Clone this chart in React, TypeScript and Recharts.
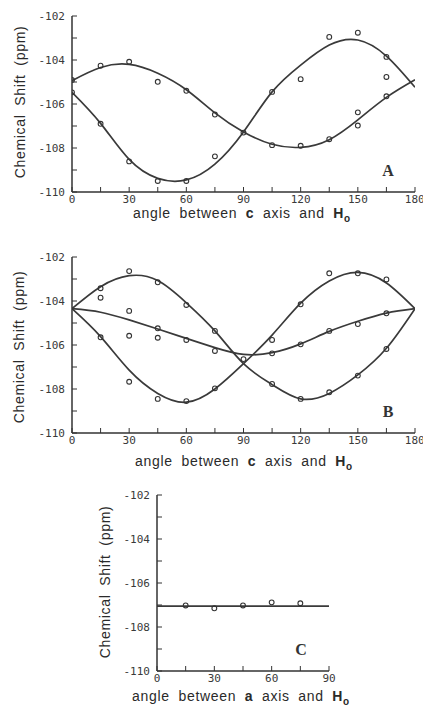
import { ComposedChart, Line, Scatter, XAxis, YAxis } from 'recharts'

const ANGLES = [0, 15, 30, 45, 60, 75, 90, 105, 120, 135, 150, 165, 180]
const ANGLES_C = [0, 15, 30, 45, 60, 75, 90]

// panel A: fitted curves
const CURVE_A1 = [-104.94, -104.34, -104.2, -104.6, -105.35, -106.4, -107.27, -107.83, -107.97, -107.62, -106.72, -105.7, -104.9]
const CURVE_A2 = [-105.47, -106.88, -108.52, -109.38, -109.45, -108.73, -107.27, -105.45, -104.23, -103.32, -103.09, -103.82, -105.24]

// panel A: measured points [angle, shift]
const POINTS_A = [
  [0, -104.91], [0, -105.47], [15, -104.26], [15, -106.9], [30, -104.08], [30, -108.61],
  [45, -104.99], [45, -109.5], [60, -105.4], [60, -109.5], [75, -106.48], [75, -108.38],
  [90, -107.3], [105, -107.87], [105, -105.45], [120, -107.9], [120, -104.87],
  [135, -107.6], [135, -102.95], [150, -106.38], [150, -106.98], [150, -102.76],
  [165, -105.65], [165, -103.86], [165, -104.77],
]

// panel B
const CURVE_B1 = [-104.35, -103.35, -102.85, -103.07, -104.08, -105.36, -106.85, -107.8, -108.45, -108.2, -107.36, -106.15, -104.35]
const CURVE_B2 = [-104.35, -105.62, -107.14, -108.2, -108.6, -108.0, -106.85, -105.55, -104.1, -103.09, -102.7, -103.18, -104.35]
const CURVE_B3 = [-104.35, -104.51, -104.86, -105.27, -105.7, -106.12, -106.43, -106.35, -105.95, -105.38, -104.92, -104.55, -104.35]

const POINTS_B = [
  [15, -103.42], [15, -103.85], [15, -105.65],
  [30, -102.64], [30, -104.45], [30, -105.58], [30, -107.67],
  [45, -103.15], [45, -105.24], [45, -105.67], [45, -108.45],
  [60, -104.18], [60, -105.77], [60, -108.55],
  [75, -105.36], [75, -106.27], [75, -107.97],
  [90, -106.64],
  [105, -105.77], [105, -106.38], [105, -107.77],
  [120, -104.15], [120, -105.97], [120, -108.45],
  [135, -102.74], [135, -105.36], [135, -108.15],
  [150, -102.74], [150, -105.05], [150, -107.39],
  [165, -103.02], [165, -104.56], [165, -106.18],
]

// panel C
const CURVE_C = [-107.05, -107.05, -107.05, -107.05, -107.05, -107.05, -107.05]
const POINTS_C = [[15, -107.02], [30, -107.15], [45, -107.02], [60, -106.88], [75, -106.92]]

const Y_TICKS = [-110, -109, -108, -107, -106, -105, -104, -103, -102]

const INK = '#333'
const PLOT_H = 176

const rows = (angles: number[], curves: number[][]) =>
  angles.map((angle, i) => {
    const r: Record<string, number> = { angle }
    curves.forEach((c, j) => { r['c' + j] = c[i] })
    return r
  })

const pts = (list: number[][]) => list.map(([angle, shift]) => ({ angle, shift }))

const OpenCircle = (props: any) => (
  <circle cx={props.cx} cy={props.cy} r={2.4} fill="none" stroke={INK} strokeWidth={1.1} />
)

const tickFont = { fontSize: 11, fontFamily: 'DejaVu Sans Mono', fill: '#3a3a3a' }

interface PanelProps {
  top: number
  left: number
  plotWidth: number
  xMax: number
  angles: number[]
  curves: number[][]
  points: number[][]
}

function Panel({ top, left, plotWidth, xMax, angles, curves, points }: PanelProps) {
  const data = rows(angles, curves)
  return (
    <div style={{ position: 'absolute', left: 0, top: top - 10 }}>
      <ComposedChart width={left + plotWidth + 8} height={10 + PLOT_H + 20} data={data}
        margin={{ top: 10, right: 8, left: 0, bottom: 0 }}>
        <XAxis dataKey="angle" type="number" domain={[0, xMax]} ticks={angles} allowDataOverflow
          height={20} tickSize={-5} tickMargin={8} tick={tickFont}
          tickFormatter={(v: number) => (v % 30 === 0 ? String(v) : '')}
          axisLine={{ stroke: INK, strokeWidth: 1.5 }} tickLine={{ stroke: INK }} />
        <XAxis xAxisId="top" orientation="top" type="number" domain={[0, xMax]} ticks={angles}
          allowDataOverflow height={0} tickSize={-5} tick={false}
          axisLine={{ stroke: INK, strokeWidth: 1.5 }} tickLine={{ stroke: INK }} />
        <YAxis type="number" domain={[-110, -102]} ticks={Y_TICKS} allowDataOverflow width={left}
          tickSize={-5} tickMargin={12} tick={tickFont}
          tickFormatter={(v: number) => (v % 2 === 0 ? String(v) : '')}
          axisLine={{ stroke: INK, strokeWidth: 1.5 }} tickLine={{ stroke: INK }} />
        <YAxis yAxisId="right" orientation="right" type="number" domain={[-110, -102]} ticks={Y_TICKS}
          allowDataOverflow width={0} tickSize={-5} tick={false}
          axisLine={{ stroke: INK, strokeWidth: 1.5 }} tickLine={{ stroke: INK }} />
        {curves.map((_, j) => (
          <Line key={j} dataKey={'c' + j} type="natural" dot={false} stroke="#3a3a3a"
            strokeWidth={1.7} isAnimationActive={false} />
        ))}
        <Scatter data={pts(points)} dataKey="shift" shape={OpenCircle} isAnimationActive={false} />
      </ComposedChart>
    </div>
  )
}

const titleFont: React.CSSProperties = {
  position: 'absolute',
  fontFamily: '"Liberation Sans", Arial, sans-serif',
  fontSize: 14,
  color: '#2a2a2a',
  whiteSpace: 'nowrap',
  letterSpacing: 0.7,
  wordSpacing: 4,
  lineHeight: '16px',
}

function YTitle({ x, y }: { x: number; y: number }) {
  return (
    <div style={{ ...titleFont, left: x, top: y, transform: 'translate(-50%, -50%) rotate(-90deg)' }}>
      Chemical Shift (ppm)
    </div>
  )
}

function XTitle({ x, baseline, axis }: { x: number; baseline: number; axis: string }) {
  return (
    <div style={{ ...titleFont, left: x, top: baseline - 13, transform: 'translateX(-50%)' }}>
      angle between <b>{axis}</b> axis and <b>H<sub style={{ fontSize: 10 }}>o</sub></b>
    </div>
  )
}

function Letter({ x, y, text }: { x: number; y: number; text: string }) {
  return (
    <div style={{
      position: 'absolute', left: x, top: y, transform: 'translate(-50%, -50%)',
      fontFamily: '"Liberation Serif", serif', fontWeight: 'bold', fontSize: 16, lineHeight: 1, color: '#333',
    }}>{text}</div>
  )
}

export default function App() {
  return (
    <div style={{ position: 'absolute', left: 0, top: 0, width: 423, height: 706, background: '#fff', overflow: 'hidden' }}>
      <Panel top={16} left={72} plotWidth={343} xMax={180} angles={ANGLES}
        curves={[CURVE_A1, CURVE_A2]} points={POINTS_A} />
      <YTitle x={20} y={102} />
      <XTitle x={242} baseline={218} axis="c" />
      <Letter x={388} y={171} text="A" />

      <Panel top={257} left={72} plotWidth={343} xMax={180} angles={ANGLES}
        curves={[CURVE_B1, CURVE_B2, CURVE_B3]} points={POINTS_B} />
      <YTitle x={19} y={347} />
      <XTitle x={244} baseline={466} axis="c" />
      <Letter x={388} y={412} text="B" />

      <Panel top={495} left={157} plotWidth={172} xMax={90} angles={ANGLES_C}
        curves={[CURVE_C]} points={POINTS_C} />
      <YTitle x={105} y={582} />
      <XTitle x={241} baseline={701} axis="a" />
      <Letter x={301} y={650} text="C" />
    </div>
  )
}
